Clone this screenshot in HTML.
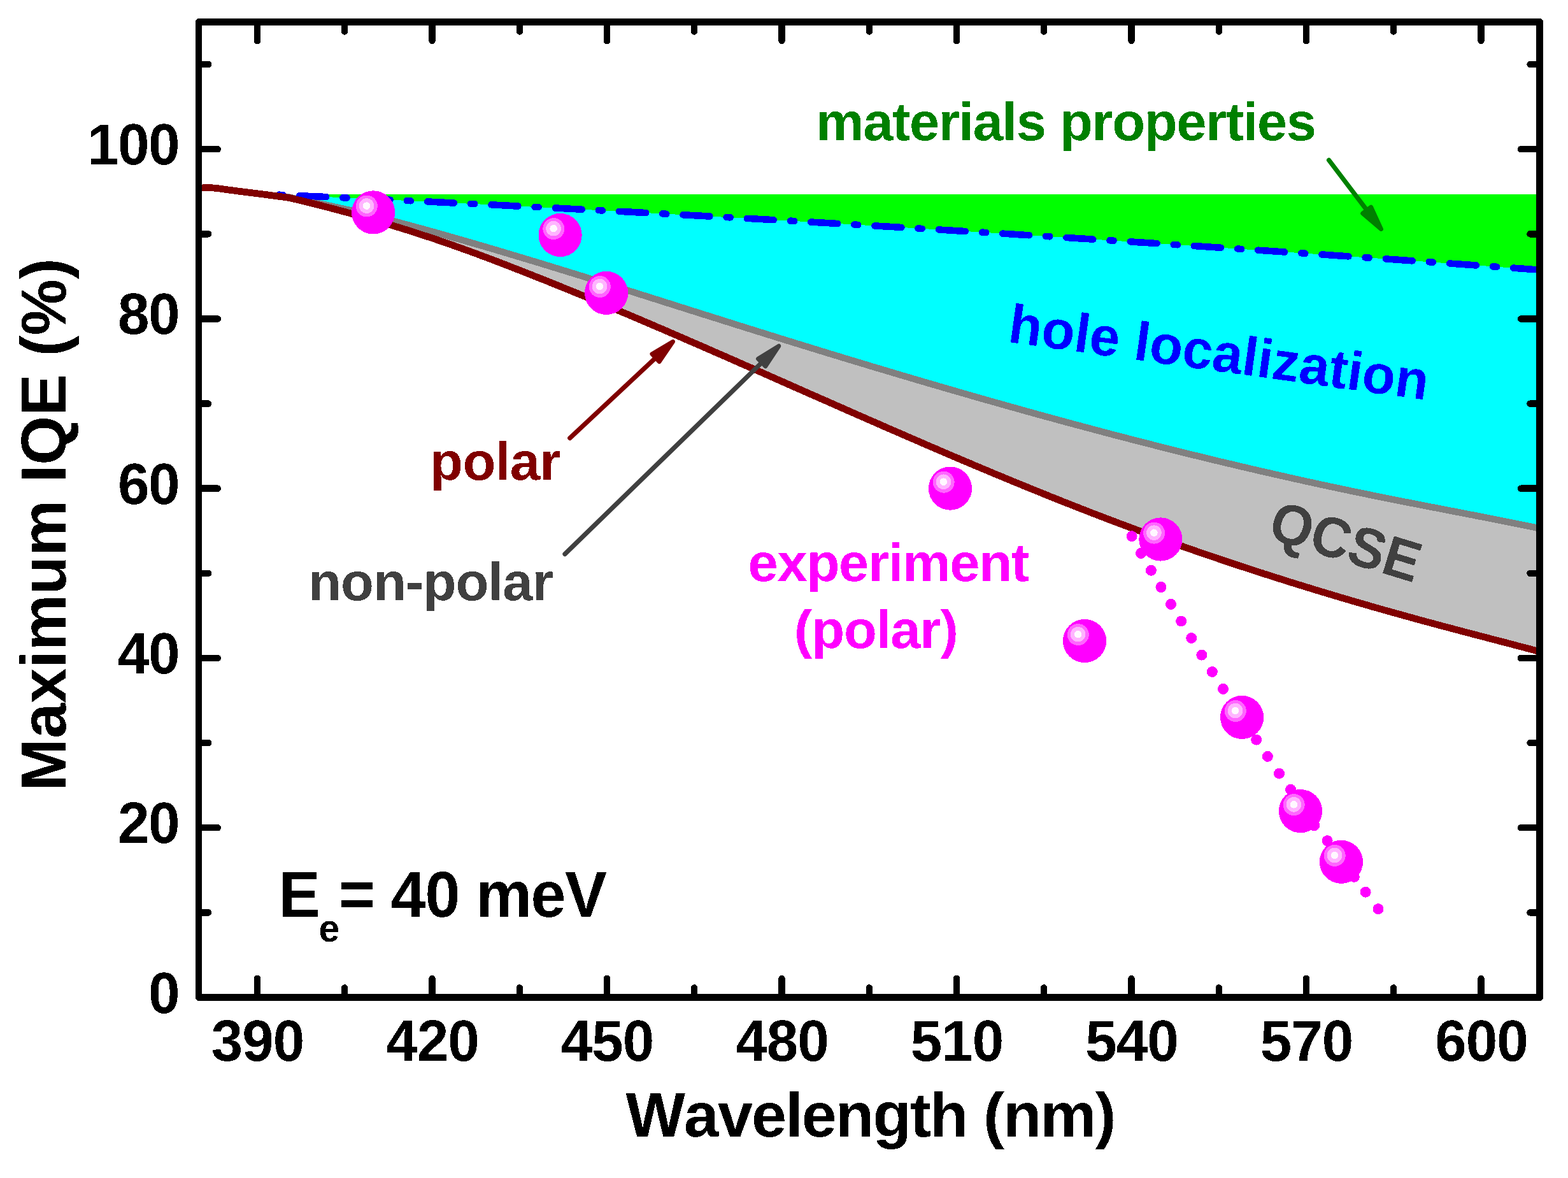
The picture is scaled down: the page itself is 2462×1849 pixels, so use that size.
<!DOCTYPE html>
<html lang="en"><head><meta charset="utf-8"><title>Maximum IQE vs Wavelength</title>
<style>html,body{margin:0;padding:0;background:#fff}svg{display:block}</style>
</head><body>
<svg width="2462" height="1849" viewBox="0 0 2462 1849">
<rect width="2462" height="1849" fill="#fff"/>
<defs><clipPath id="plot"><rect x="312.2" y="34.5" width="2105.3" height="1531.0"/></clipPath><filter id="hard" x="0" y="0" width="2462" height="1849" filterUnits="userSpaceOnUse" color-interpolation-filters="sRGB"><feComponentTransfer><feFuncA type="discrete" tableValues="0 1"/></feComponentTransfer></filter></defs>
<g clip-path="url(#plot)" shape-rendering="crispEdges">
<path d="M500.0,304.9 L2417.5,304.9 L2417.5,423.6 L2412.0,423.2 L2406.0,422.8 L2400.0,422.4 L2394.0,421.9 L2388.0,421.5 L2382.0,421.1 L2376.0,420.6 L2370.0,420.2 L2364.0,419.8 L2358.0,419.3 L2352.0,418.9 L2346.0,418.5 L2340.0,418.0 L2334.0,417.6 L2328.0,417.2 L2322.0,416.8 L2316.0,416.3 L2310.0,415.9 L2304.0,415.5 L2298.0,415.0 L2292.0,414.6 L2286.0,414.2 L2280.0,413.8 L2274.0,413.3 L2268.0,412.9 L2262.0,412.5 L2256.0,412.1 L2250.0,411.6 L2244.0,411.2 L2238.0,410.8 L2232.0,410.4 L2226.0,409.9 L2220.0,409.5 L2214.0,409.1 L2208.0,408.7 L2202.0,408.3 L2196.0,407.8 L2190.0,407.4 L2184.0,407.0 L2178.0,406.6 L2172.0,406.2 L2166.0,405.7 L2160.0,405.3 L2154.0,404.9 L2148.0,404.5 L2142.0,404.1 L2136.0,403.7 L2130.0,403.2 L2124.0,402.8 L2118.0,402.4 L2112.0,402.0 L2106.0,401.6 L2100.0,401.2 L2094.0,400.8 L2088.0,400.3 L2082.0,399.9 L2076.0,399.5 L2070.0,399.1 L2064.0,398.7 L2058.0,398.3 L2052.0,397.9 L2046.0,397.5 L2040.0,397.1 L2034.0,396.7 L2028.0,396.2 L2022.0,395.8 L2016.0,395.4 L2010.0,395.0 L2004.0,394.6 L1998.0,394.2 L1992.0,393.8 L1986.0,393.4 L1980.0,393.0 L1974.0,392.6 L1968.0,392.2 L1962.0,391.8 L1956.0,391.4 L1950.0,391.0 L1944.0,390.6 L1938.0,390.2 L1932.0,389.8 L1926.0,389.4 L1920.0,389.0 L1914.0,388.6 L1908.0,388.2 L1902.0,387.8 L1896.0,387.4 L1890.0,387.0 L1884.0,386.6 L1878.0,386.2 L1872.0,385.8 L1866.0,385.4 L1860.0,385.0 L1854.0,384.6 L1848.0,384.2 L1842.0,383.8 L1836.0,383.4 L1830.0,383.0 L1824.0,382.6 L1818.0,382.2 L1812.0,381.8 L1806.0,381.4 L1800.0,381.0 L1794.0,380.6 L1788.0,380.3 L1782.0,379.9 L1776.0,379.5 L1770.0,379.1 L1764.0,378.7 L1758.0,378.3 L1752.0,377.9 L1746.0,377.5 L1740.0,377.1 L1734.0,376.8 L1728.0,376.4 L1722.0,376.0 L1716.0,375.6 L1710.0,375.2 L1704.0,374.8 L1698.0,374.5 L1692.0,374.1 L1686.0,373.7 L1680.0,373.3 L1674.0,372.9 L1668.0,372.5 L1662.0,372.2 L1656.0,371.8 L1650.0,371.4 L1644.0,371.0 L1638.0,370.6 L1632.0,370.3 L1626.0,369.9 L1620.0,369.5 L1614.0,369.1 L1608.0,368.8 L1602.0,368.4 L1596.0,368.0 L1590.0,367.6 L1584.0,367.2 L1578.0,366.9 L1572.0,366.5 L1566.0,366.1 L1560.0,365.8 L1554.0,365.4 L1548.0,365.0 L1542.0,364.6 L1536.0,364.3 L1530.0,363.9 L1524.0,363.5 L1518.0,363.2 L1512.0,362.8 L1506.0,362.4 L1500.0,362.1 L1494.0,361.7 L1488.0,361.3 L1482.0,361.0 L1476.0,360.6 L1470.0,360.2 L1464.0,359.9 L1458.0,359.5 L1452.0,359.1 L1446.0,358.8 L1440.0,358.4 L1434.0,358.0 L1428.0,357.7 L1422.0,357.3 L1416.0,357.0 L1410.0,356.6 L1404.0,356.2 L1398.0,355.9 L1392.0,355.5 L1386.0,355.2 L1380.0,354.8 L1374.0,354.5 L1368.0,354.1 L1362.0,353.7 L1356.0,353.4 L1350.0,353.0 L1344.0,352.7 L1338.0,352.3 L1332.0,352.0 L1326.0,351.6 L1320.0,351.3 L1314.0,350.9 L1308.0,350.6 L1302.0,350.2 L1296.0,349.9 L1290.0,349.5 L1284.0,349.2 L1278.0,348.8 L1272.0,348.5 L1266.0,348.1 L1260.0,347.8 L1254.0,347.4 L1248.0,347.1 L1242.0,346.7 L1236.0,346.4 L1230.0,346.0 L1224.0,345.7 L1218.0,345.4 L1212.0,345.0 L1206.0,344.7 L1200.0,344.3 L1194.0,344.0 L1188.0,343.7 L1182.0,343.3 L1176.0,343.0 L1170.0,342.6 L1164.0,342.3 L1158.0,342.0 L1152.0,341.6 L1146.0,341.3 L1140.0,341.0 L1134.0,340.6 L1128.0,340.3 L1122.0,339.9 L1116.0,339.6 L1110.0,339.3 L1104.0,338.9 L1098.0,338.6 L1092.0,338.3 L1086.0,338.0 L1080.0,337.6 L1074.0,337.3 L1068.0,337.0 L1062.0,336.6 L1056.0,336.3 L1050.0,336.0 L1044.0,335.7 L1038.0,335.3 L1032.0,335.0 L1026.0,334.7 L1020.0,334.4 L1014.0,334.0 L1008.0,333.7 L1002.0,333.4 L996.0,333.1 L990.0,332.7 L984.0,332.4 L978.0,332.1 L972.0,331.8 L966.0,331.5 L960.0,331.1 L954.0,330.8 L948.0,330.5 L942.0,330.2 L936.0,329.9 L930.0,329.6 L924.0,329.2 L918.0,328.9 L912.0,328.6 L906.0,328.3 L900.0,328.0 L894.0,327.7 L888.0,327.4 L882.0,327.0 L876.0,326.7 L870.0,326.4 L864.0,326.1 L858.0,325.8 L852.0,325.5 L846.0,325.2 L840.0,324.9 L834.0,324.6 L828.0,324.3 L822.0,324.0 L816.0,323.7 L810.0,323.4 L804.0,323.1 L798.0,322.7 L792.0,322.4 L786.0,322.1 L780.0,321.8 L774.0,321.5 L768.0,321.2 L762.0,320.9 L756.0,320.6 L750.0,320.3 L744.0,320.1 L738.0,319.8 L732.0,319.5 L726.0,319.2 L720.0,318.9 L714.0,318.6 L708.0,318.3 L702.0,318.0 L696.0,317.7 L690.0,317.4 L684.0,317.1 L678.0,316.8 L672.0,316.5 L666.0,316.2 L660.0,316.0 L654.0,315.7 L648.0,315.4 L642.0,315.1 L636.0,314.8 L630.0,314.5 L624.0,314.2 L618.0,313.9 L612.0,313.7 L606.0,313.4 L600.0,313.1 L594.0,312.8 L588.0,312.5 L582.0,312.3 L576.0,312.0 L570.0,311.7 L564.0,311.4 L558.0,311.1 L552.0,310.9 L546.0,310.6 L540.0,310.3 L534.0,310.0 L528.0,309.8 L522.0,309.5 L516.0,309.2 L510.0,308.9 L504.0,308.7Z" fill="#00ff00"/>
<path d="M426.0,305.2 L432.0,305.5 L438.0,305.7 L444.0,306.0 L450.0,306.2 L456.0,306.5 L462.0,306.8 L468.0,307.0 L474.0,307.3 L480.0,307.6 L486.0,307.9 L492.0,308.1 L498.0,308.4 L504.0,308.7 L510.0,308.9 L516.0,309.2 L522.0,309.5 L528.0,309.8 L534.0,310.0 L540.0,310.3 L546.0,310.6 L552.0,310.9 L558.0,311.1 L564.0,311.4 L570.0,311.7 L576.0,312.0 L582.0,312.3 L588.0,312.5 L594.0,312.8 L600.0,313.1 L606.0,313.4 L612.0,313.7 L618.0,313.9 L624.0,314.2 L630.0,314.5 L636.0,314.8 L642.0,315.1 L648.0,315.4 L654.0,315.7 L660.0,316.0 L666.0,316.2 L672.0,316.5 L678.0,316.8 L684.0,317.1 L690.0,317.4 L696.0,317.7 L702.0,318.0 L708.0,318.3 L714.0,318.6 L720.0,318.9 L726.0,319.2 L732.0,319.5 L738.0,319.8 L744.0,320.1 L750.0,320.3 L756.0,320.6 L762.0,320.9 L768.0,321.2 L774.0,321.5 L780.0,321.8 L786.0,322.1 L792.0,322.4 L798.0,322.7 L804.0,323.1 L810.0,323.4 L816.0,323.7 L822.0,324.0 L828.0,324.3 L834.0,324.6 L840.0,324.9 L846.0,325.2 L852.0,325.5 L858.0,325.8 L864.0,326.1 L870.0,326.4 L876.0,326.7 L882.0,327.0 L888.0,327.4 L894.0,327.7 L900.0,328.0 L906.0,328.3 L912.0,328.6 L918.0,328.9 L924.0,329.2 L930.0,329.6 L936.0,329.9 L942.0,330.2 L948.0,330.5 L954.0,330.8 L960.0,331.1 L966.0,331.5 L972.0,331.8 L978.0,332.1 L984.0,332.4 L990.0,332.7 L996.0,333.1 L1002.0,333.4 L1008.0,333.7 L1014.0,334.0 L1020.0,334.4 L1026.0,334.7 L1032.0,335.0 L1038.0,335.3 L1044.0,335.7 L1050.0,336.0 L1056.0,336.3 L1062.0,336.6 L1068.0,337.0 L1074.0,337.3 L1080.0,337.6 L1086.0,338.0 L1092.0,338.3 L1098.0,338.6 L1104.0,338.9 L1110.0,339.3 L1116.0,339.6 L1122.0,339.9 L1128.0,340.3 L1134.0,340.6 L1140.0,341.0 L1146.0,341.3 L1152.0,341.6 L1158.0,342.0 L1164.0,342.3 L1170.0,342.6 L1176.0,343.0 L1182.0,343.3 L1188.0,343.7 L1194.0,344.0 L1200.0,344.3 L1206.0,344.7 L1212.0,345.0 L1218.0,345.4 L1224.0,345.7 L1230.0,346.0 L1236.0,346.4 L1242.0,346.7 L1248.0,347.1 L1254.0,347.4 L1260.0,347.8 L1266.0,348.1 L1272.0,348.5 L1278.0,348.8 L1284.0,349.2 L1290.0,349.5 L1296.0,349.9 L1302.0,350.2 L1308.0,350.6 L1314.0,350.9 L1320.0,351.3 L1326.0,351.6 L1332.0,352.0 L1338.0,352.3 L1344.0,352.7 L1350.0,353.0 L1356.0,353.4 L1362.0,353.7 L1368.0,354.1 L1374.0,354.5 L1380.0,354.8 L1386.0,355.2 L1392.0,355.5 L1398.0,355.9 L1404.0,356.2 L1410.0,356.6 L1416.0,357.0 L1422.0,357.3 L1428.0,357.7 L1434.0,358.0 L1440.0,358.4 L1446.0,358.8 L1452.0,359.1 L1458.0,359.5 L1464.0,359.9 L1470.0,360.2 L1476.0,360.6 L1482.0,361.0 L1488.0,361.3 L1494.0,361.7 L1500.0,362.1 L1506.0,362.4 L1512.0,362.8 L1518.0,363.2 L1524.0,363.5 L1530.0,363.9 L1536.0,364.3 L1542.0,364.6 L1548.0,365.0 L1554.0,365.4 L1560.0,365.8 L1566.0,366.1 L1572.0,366.5 L1578.0,366.9 L1584.0,367.2 L1590.0,367.6 L1596.0,368.0 L1602.0,368.4 L1608.0,368.8 L1614.0,369.1 L1620.0,369.5 L1626.0,369.9 L1632.0,370.3 L1638.0,370.6 L1644.0,371.0 L1650.0,371.4 L1656.0,371.8 L1662.0,372.2 L1668.0,372.5 L1674.0,372.9 L1680.0,373.3 L1686.0,373.7 L1692.0,374.1 L1698.0,374.5 L1704.0,374.8 L1710.0,375.2 L1716.0,375.6 L1722.0,376.0 L1728.0,376.4 L1734.0,376.8 L1740.0,377.1 L1746.0,377.5 L1752.0,377.9 L1758.0,378.3 L1764.0,378.7 L1770.0,379.1 L1776.0,379.5 L1782.0,379.9 L1788.0,380.3 L1794.0,380.6 L1800.0,381.0 L1806.0,381.4 L1812.0,381.8 L1818.0,382.2 L1824.0,382.6 L1830.0,383.0 L1836.0,383.4 L1842.0,383.8 L1848.0,384.2 L1854.0,384.6 L1860.0,385.0 L1866.0,385.4 L1872.0,385.8 L1878.0,386.2 L1884.0,386.6 L1890.0,387.0 L1896.0,387.4 L1902.0,387.8 L1908.0,388.2 L1914.0,388.6 L1920.0,389.0 L1926.0,389.4 L1932.0,389.8 L1938.0,390.2 L1944.0,390.6 L1950.0,391.0 L1956.0,391.4 L1962.0,391.8 L1968.0,392.2 L1974.0,392.6 L1980.0,393.0 L1986.0,393.4 L1992.0,393.8 L1998.0,394.2 L2004.0,394.6 L2010.0,395.0 L2016.0,395.4 L2022.0,395.8 L2028.0,396.2 L2034.0,396.7 L2040.0,397.1 L2046.0,397.5 L2052.0,397.9 L2058.0,398.3 L2064.0,398.7 L2070.0,399.1 L2076.0,399.5 L2082.0,399.9 L2088.0,400.3 L2094.0,400.8 L2100.0,401.2 L2106.0,401.6 L2112.0,402.0 L2118.0,402.4 L2124.0,402.8 L2130.0,403.2 L2136.0,403.7 L2142.0,404.1 L2148.0,404.5 L2154.0,404.9 L2160.0,405.3 L2166.0,405.7 L2172.0,406.2 L2178.0,406.6 L2184.0,407.0 L2190.0,407.4 L2196.0,407.8 L2202.0,408.3 L2208.0,408.7 L2214.0,409.1 L2220.0,409.5 L2226.0,409.9 L2232.0,410.4 L2238.0,410.8 L2244.0,411.2 L2250.0,411.6 L2256.0,412.1 L2262.0,412.5 L2268.0,412.9 L2274.0,413.3 L2280.0,413.8 L2286.0,414.2 L2292.0,414.6 L2298.0,415.0 L2304.0,415.5 L2310.0,415.9 L2316.0,416.3 L2322.0,416.8 L2328.0,417.2 L2334.0,417.6 L2340.0,418.0 L2346.0,418.5 L2352.0,418.9 L2358.0,419.3 L2364.0,419.8 L2370.0,420.2 L2376.0,420.6 L2382.0,421.1 L2388.0,421.5 L2394.0,421.9 L2400.0,422.4 L2406.0,422.8 L2412.0,423.2 L2417.5,423.6 L2417.5,829.4 L2414.0,828.7 L2408.0,827.5 L2402.0,826.2 L2396.0,825.0 L2390.0,823.8 L2384.0,822.6 L2378.0,821.4 L2372.0,820.2 L2366.0,819.0 L2360.0,817.8 L2354.0,816.6 L2348.0,815.4 L2342.0,814.2 L2336.0,813.0 L2330.0,811.9 L2324.0,810.7 L2318.0,809.5 L2312.0,808.3 L2306.0,807.2 L2300.0,806.0 L2294.0,804.9 L2288.0,803.7 L2282.0,802.5 L2276.0,801.4 L2270.0,800.2 L2264.0,799.0 L2258.0,797.9 L2252.0,796.7 L2246.0,795.6 L2240.0,794.4 L2234.0,793.2 L2228.0,792.1 L2222.0,790.9 L2216.0,789.7 L2210.0,788.5 L2204.0,787.4 L2198.0,786.2 L2192.0,785.0 L2186.0,783.8 L2180.0,782.6 L2174.0,781.4 L2168.0,780.2 L2162.0,779.0 L2156.0,777.8 L2150.0,776.5 L2144.0,775.3 L2138.0,774.1 L2132.0,772.8 L2126.0,771.6 L2120.0,770.3 L2114.0,769.1 L2108.0,767.8 L2102.0,766.5 L2096.0,765.3 L2090.0,764.0 L2084.0,762.7 L2078.0,761.4 L2072.0,760.1 L2066.0,758.8 L2060.0,757.5 L2054.0,756.2 L2048.0,754.9 L2042.0,753.5 L2036.0,752.2 L2030.0,750.9 L2024.0,749.5 L2018.0,748.2 L2012.0,746.8 L2006.0,745.5 L2000.0,744.1 L1994.0,742.7 L1988.0,741.4 L1982.0,740.0 L1976.0,738.6 L1970.0,737.2 L1964.0,735.8 L1958.0,734.4 L1952.0,733.0 L1946.0,731.6 L1940.0,730.2 L1934.0,728.7 L1928.0,727.3 L1922.0,725.9 L1916.0,724.5 L1910.0,723.0 L1904.0,721.6 L1898.0,720.1 L1892.0,718.7 L1886.0,717.2 L1880.0,715.7 L1874.0,714.3 L1868.0,712.8 L1862.0,711.3 L1856.0,709.8 L1850.0,708.3 L1844.0,706.8 L1838.0,705.3 L1832.0,703.8 L1826.0,702.3 L1820.0,700.8 L1814.0,699.3 L1808.0,697.7 L1802.0,696.2 L1796.0,694.7 L1790.0,693.1 L1784.0,691.6 L1778.0,690.1 L1772.0,688.5 L1766.0,686.9 L1760.0,685.4 L1754.0,683.8 L1748.0,682.3 L1742.0,680.7 L1736.0,679.1 L1730.0,677.5 L1724.0,675.9 L1718.0,674.3 L1712.0,672.7 L1706.0,671.1 L1700.0,669.5 L1694.0,667.9 L1688.0,666.3 L1682.0,664.7 L1676.0,663.1 L1670.0,661.4 L1664.0,659.8 L1658.0,658.2 L1652.0,656.5 L1646.0,654.9 L1640.0,653.3 L1634.0,651.6 L1628.0,650.0 L1622.0,648.3 L1616.0,646.6 L1610.0,645.0 L1604.0,643.3 L1598.0,641.6 L1592.0,639.9 L1586.0,638.3 L1580.0,636.6 L1574.0,634.9 L1568.0,633.2 L1562.0,631.5 L1556.0,629.8 L1550.0,628.1 L1544.0,626.4 L1538.0,624.7 L1532.0,623.0 L1526.0,621.3 L1520.0,619.5 L1514.0,617.8 L1508.0,616.1 L1502.0,614.3 L1496.0,612.6 L1490.0,610.9 L1484.0,609.1 L1478.0,607.4 L1472.0,605.6 L1466.0,603.9 L1460.0,602.1 L1454.0,600.4 L1448.0,598.6 L1442.0,596.9 L1436.0,595.1 L1430.0,593.3 L1424.0,591.5 L1418.0,589.8 L1412.0,588.0 L1406.0,586.2 L1400.0,584.4 L1394.0,582.6 L1388.0,580.8 L1382.0,579.0 L1376.0,577.3 L1370.0,575.5 L1364.0,573.6 L1358.0,571.8 L1352.0,570.0 L1346.0,568.2 L1340.0,566.4 L1334.0,564.6 L1328.0,562.8 L1322.0,561.0 L1316.0,559.1 L1310.0,557.3 L1304.0,555.5 L1298.0,553.6 L1292.0,551.8 L1286.0,550.0 L1280.0,548.1 L1274.0,546.3 L1268.0,544.4 L1262.0,542.6 L1256.0,540.7 L1250.0,538.9 L1244.0,537.0 L1238.0,535.2 L1232.0,533.3 L1226.0,531.5 L1220.0,529.6 L1214.0,527.7 L1208.0,525.9 L1202.0,524.0 L1196.0,522.1 L1190.0,520.3 L1184.0,518.4 L1178.0,516.5 L1172.0,514.6 L1166.0,512.7 L1160.0,510.9 L1154.0,509.0 L1148.0,507.1 L1142.0,505.2 L1136.0,503.3 L1130.0,501.4 L1124.0,499.5 L1118.0,497.6 L1112.0,495.7 L1106.0,493.9 L1100.0,492.0 L1094.0,490.1 L1088.0,488.2 L1082.0,486.3 L1076.0,484.4 L1070.0,482.5 L1064.0,480.6 L1058.0,478.7 L1052.0,476.8 L1046.0,474.9 L1040.0,473.0 L1034.0,471.1 L1028.0,469.2 L1022.0,467.3 L1016.0,465.4 L1010.0,463.5 L1004.0,461.6 L998.0,459.7 L992.0,457.8 L986.0,456.0 L980.0,454.1 L974.0,452.2 L968.0,450.3 L962.0,448.4 L956.0,446.5 L950.0,444.7 L944.0,442.8 L938.0,440.9 L932.0,439.0 L926.0,437.2 L920.0,435.3 L914.0,433.4 L908.0,431.6 L902.0,429.7 L896.0,427.9 L890.0,426.0 L884.0,424.2 L878.0,422.3 L872.0,420.5 L866.0,418.6 L860.0,416.8 L854.0,415.0 L848.0,413.1 L842.0,411.3 L836.0,409.5 L830.0,407.7 L824.0,405.9 L818.0,404.1 L812.0,402.3 L806.0,400.5 L800.0,398.7 L794.0,396.9 L788.0,395.1 L782.0,393.3 L776.0,391.5 L770.0,389.8 L764.0,388.0 L758.0,386.2 L752.0,384.5 L746.0,382.7 L740.0,381.0 L734.0,379.3 L728.0,377.5 L722.0,375.8 L716.0,374.1 L710.0,372.4 L704.0,370.7 L698.0,369.0 L692.0,367.3 L686.0,365.6 L680.0,363.9 L674.0,362.2 L668.0,360.6 L662.0,358.9 L656.0,357.3 L650.0,355.7 L644.0,354.0 L638.0,352.4 L632.0,350.8 L626.0,349.2 L620.0,347.6 L614.0,346.1 L608.0,344.5 L602.0,343.0 L596.0,341.4 L590.0,339.9 L584.0,338.4 L578.0,336.9 L572.0,335.5 L566.0,334.0 L560.0,332.5 L554.0,331.1 L548.0,329.7 L542.0,328.3 L536.0,327.0 L530.0,325.6 L524.0,324.3 L518.0,323.0 L512.0,321.7 L506.0,320.4 L500.0,319.2 L494.0,317.9 L488.0,316.7 L482.0,315.5 L476.0,314.4 L470.0,313.3 L464.0,311.9 L458.0,310.5 L452.0,309.3 L446.0,308.5 L440.0,307.7 L434.0,306.9 L428.0,307.0 L422.0,306.2Z" fill="#00ffff"/>
<path d="M422.0,306.2 L428.0,307.0 L434.0,306.9 L440.0,307.7 L446.0,308.5 L452.0,309.3 L458.0,310.5 L464.0,311.9 L470.0,313.3 L476.0,314.4 L482.0,315.5 L488.0,316.7 L494.0,317.9 L500.0,319.2 L506.0,320.4 L512.0,321.7 L518.0,323.0 L524.0,324.3 L530.0,325.6 L536.0,327.0 L542.0,328.3 L548.0,329.7 L554.0,331.1 L560.0,332.5 L566.0,334.0 L572.0,335.5 L578.0,336.9 L584.0,338.4 L590.0,339.9 L596.0,341.4 L602.0,343.0 L608.0,344.5 L614.0,346.1 L620.0,347.6 L626.0,349.2 L632.0,350.8 L638.0,352.4 L644.0,354.0 L650.0,355.7 L656.0,357.3 L662.0,358.9 L668.0,360.6 L674.0,362.2 L680.0,363.9 L686.0,365.6 L692.0,367.3 L698.0,369.0 L704.0,370.7 L710.0,372.4 L716.0,374.1 L722.0,375.8 L728.0,377.5 L734.0,379.3 L740.0,381.0 L746.0,382.7 L752.0,384.5 L758.0,386.2 L764.0,388.0 L770.0,389.8 L776.0,391.5 L782.0,393.3 L788.0,395.1 L794.0,396.9 L800.0,398.7 L806.0,400.5 L812.0,402.3 L818.0,404.1 L824.0,405.9 L830.0,407.7 L836.0,409.5 L842.0,411.3 L848.0,413.1 L854.0,415.0 L860.0,416.8 L866.0,418.6 L872.0,420.5 L878.0,422.3 L884.0,424.2 L890.0,426.0 L896.0,427.9 L902.0,429.7 L908.0,431.6 L914.0,433.4 L920.0,435.3 L926.0,437.2 L932.0,439.0 L938.0,440.9 L944.0,442.8 L950.0,444.7 L956.0,446.5 L962.0,448.4 L968.0,450.3 L974.0,452.2 L980.0,454.1 L986.0,456.0 L992.0,457.8 L998.0,459.7 L1004.0,461.6 L1010.0,463.5 L1016.0,465.4 L1022.0,467.3 L1028.0,469.2 L1034.0,471.1 L1040.0,473.0 L1046.0,474.9 L1052.0,476.8 L1058.0,478.7 L1064.0,480.6 L1070.0,482.5 L1076.0,484.4 L1082.0,486.3 L1088.0,488.2 L1094.0,490.1 L1100.0,492.0 L1106.0,493.9 L1112.0,495.7 L1118.0,497.6 L1124.0,499.5 L1130.0,501.4 L1136.0,503.3 L1142.0,505.2 L1148.0,507.1 L1154.0,509.0 L1160.0,510.9 L1166.0,512.7 L1172.0,514.6 L1178.0,516.5 L1184.0,518.4 L1190.0,520.3 L1196.0,522.1 L1202.0,524.0 L1208.0,525.9 L1214.0,527.7 L1220.0,529.6 L1226.0,531.5 L1232.0,533.3 L1238.0,535.2 L1244.0,537.0 L1250.0,538.9 L1256.0,540.7 L1262.0,542.6 L1268.0,544.4 L1274.0,546.3 L1280.0,548.1 L1286.0,550.0 L1292.0,551.8 L1298.0,553.6 L1304.0,555.5 L1310.0,557.3 L1316.0,559.1 L1322.0,561.0 L1328.0,562.8 L1334.0,564.6 L1340.0,566.4 L1346.0,568.2 L1352.0,570.0 L1358.0,571.8 L1364.0,573.6 L1370.0,575.5 L1376.0,577.3 L1382.0,579.0 L1388.0,580.8 L1394.0,582.6 L1400.0,584.4 L1406.0,586.2 L1412.0,588.0 L1418.0,589.8 L1424.0,591.5 L1430.0,593.3 L1436.0,595.1 L1442.0,596.9 L1448.0,598.6 L1454.0,600.4 L1460.0,602.1 L1466.0,603.9 L1472.0,605.6 L1478.0,607.4 L1484.0,609.1 L1490.0,610.9 L1496.0,612.6 L1502.0,614.3 L1508.0,616.1 L1514.0,617.8 L1520.0,619.5 L1526.0,621.3 L1532.0,623.0 L1538.0,624.7 L1544.0,626.4 L1550.0,628.1 L1556.0,629.8 L1562.0,631.5 L1568.0,633.2 L1574.0,634.9 L1580.0,636.6 L1586.0,638.3 L1592.0,639.9 L1598.0,641.6 L1604.0,643.3 L1610.0,645.0 L1616.0,646.6 L1622.0,648.3 L1628.0,650.0 L1634.0,651.6 L1640.0,653.3 L1646.0,654.9 L1652.0,656.5 L1658.0,658.2 L1664.0,659.8 L1670.0,661.4 L1676.0,663.1 L1682.0,664.7 L1688.0,666.3 L1694.0,667.9 L1700.0,669.5 L1706.0,671.1 L1712.0,672.7 L1718.0,674.3 L1724.0,675.9 L1730.0,677.5 L1736.0,679.1 L1742.0,680.7 L1748.0,682.3 L1754.0,683.8 L1760.0,685.4 L1766.0,686.9 L1772.0,688.5 L1778.0,690.1 L1784.0,691.6 L1790.0,693.1 L1796.0,694.7 L1802.0,696.2 L1808.0,697.7 L1814.0,699.3 L1820.0,700.8 L1826.0,702.3 L1832.0,703.8 L1838.0,705.3 L1844.0,706.8 L1850.0,708.3 L1856.0,709.8 L1862.0,711.3 L1868.0,712.8 L1874.0,714.3 L1880.0,715.7 L1886.0,717.2 L1892.0,718.7 L1898.0,720.1 L1904.0,721.6 L1910.0,723.0 L1916.0,724.5 L1922.0,725.9 L1928.0,727.3 L1934.0,728.7 L1940.0,730.2 L1946.0,731.6 L1952.0,733.0 L1958.0,734.4 L1964.0,735.8 L1970.0,737.2 L1976.0,738.6 L1982.0,740.0 L1988.0,741.4 L1994.0,742.7 L2000.0,744.1 L2006.0,745.5 L2012.0,746.8 L2018.0,748.2 L2024.0,749.5 L2030.0,750.9 L2036.0,752.2 L2042.0,753.5 L2048.0,754.9 L2054.0,756.2 L2060.0,757.5 L2066.0,758.8 L2072.0,760.1 L2078.0,761.4 L2084.0,762.7 L2090.0,764.0 L2096.0,765.3 L2102.0,766.5 L2108.0,767.8 L2114.0,769.1 L2120.0,770.3 L2126.0,771.6 L2132.0,772.8 L2138.0,774.1 L2144.0,775.3 L2150.0,776.5 L2156.0,777.8 L2162.0,779.0 L2168.0,780.2 L2174.0,781.4 L2180.0,782.6 L2186.0,783.8 L2192.0,785.0 L2198.0,786.2 L2204.0,787.4 L2210.0,788.5 L2216.0,789.7 L2222.0,790.9 L2228.0,792.1 L2234.0,793.2 L2240.0,794.4 L2246.0,795.6 L2252.0,796.7 L2258.0,797.9 L2264.0,799.0 L2270.0,800.2 L2276.0,801.4 L2282.0,802.5 L2288.0,803.7 L2294.0,804.9 L2300.0,806.0 L2306.0,807.2 L2312.0,808.3 L2318.0,809.5 L2324.0,810.7 L2330.0,811.9 L2336.0,813.0 L2342.0,814.2 L2348.0,815.4 L2354.0,816.6 L2360.0,817.8 L2366.0,819.0 L2372.0,820.2 L2378.0,821.4 L2384.0,822.6 L2390.0,823.8 L2396.0,825.0 L2402.0,826.2 L2408.0,827.5 L2414.0,828.7 L2417.5,829.4 L2417.5,1022.8 L2412.2,1021.4 L2406.2,1019.8 L2400.2,1018.2 L2394.2,1016.6 L2388.2,1015.0 L2382.2,1013.5 L2376.2,1011.9 L2370.2,1010.3 L2364.2,1008.7 L2358.2,1007.2 L2352.2,1005.6 L2346.2,1004.0 L2340.2,1002.5 L2334.2,1000.9 L2328.2,999.3 L2322.2,997.8 L2316.2,996.2 L2310.2,994.6 L2304.2,993.1 L2298.2,991.5 L2292.2,989.9 L2286.2,988.3 L2280.2,986.7 L2274.2,985.1 L2268.2,983.6 L2262.2,982.0 L2256.2,980.3 L2250.2,978.7 L2244.2,977.1 L2238.2,975.5 L2232.2,973.9 L2226.2,972.2 L2220.2,970.6 L2214.2,968.9 L2208.2,967.3 L2202.2,965.6 L2196.2,963.9 L2190.2,962.3 L2184.2,960.6 L2178.2,958.9 L2172.2,957.2 L2166.2,955.5 L2160.2,953.8 L2154.2,952.1 L2148.2,950.3 L2142.2,948.6 L2136.2,946.9 L2130.2,945.1 L2124.2,943.4 L2118.2,941.6 L2112.2,939.8 L2106.2,938.1 L2100.2,936.3 L2094.2,934.5 L2088.2,932.7 L2082.2,930.9 L2076.2,929.1 L2070.2,927.3 L2064.2,925.5 L2058.2,923.6 L2052.2,921.8 L2046.2,919.9 L2040.2,918.1 L2034.2,916.2 L2028.2,914.4 L2022.2,912.5 L2016.2,910.6 L2010.2,908.7 L2004.2,906.8 L1998.2,904.9 L1992.2,903.0 L1986.2,901.1 L1980.2,899.1 L1974.2,897.2 L1968.2,895.3 L1962.2,893.3 L1956.2,891.3 L1950.2,889.4 L1944.2,887.4 L1938.2,885.4 L1932.2,883.4 L1926.2,881.4 L1920.2,879.4 L1914.2,877.4 L1908.2,875.3 L1902.2,873.3 L1896.2,871.3 L1890.2,869.2 L1884.2,867.1 L1878.2,865.1 L1872.2,863.0 L1866.2,860.9 L1860.2,858.8 L1854.2,856.7 L1848.2,854.6 L1842.2,852.5 L1836.2,850.3 L1830.2,848.2 L1824.2,846.0 L1818.2,843.9 L1812.2,841.7 L1806.2,839.5 L1800.2,837.3 L1794.2,835.1 L1788.2,832.9 L1782.2,830.7 L1776.2,828.5 L1770.2,826.3 L1764.2,824.0 L1758.2,821.8 L1752.2,819.5 L1746.2,817.3 L1740.2,815.0 L1734.2,812.7 L1728.2,810.4 L1722.2,808.1 L1716.2,805.8 L1710.2,803.5 L1704.2,801.1 L1698.2,798.8 L1692.2,796.4 L1686.2,794.1 L1680.2,791.7 L1674.2,789.4 L1668.2,787.0 L1662.2,784.6 L1656.2,782.2 L1650.2,779.8 L1644.2,777.4 L1638.2,775.0 L1632.2,772.5 L1626.2,770.1 L1620.2,767.7 L1614.2,765.2 L1608.2,762.8 L1602.2,760.3 L1596.2,757.9 L1590.2,755.4 L1584.2,752.9 L1578.2,750.4 L1572.2,747.9 L1566.2,745.5 L1560.2,743.0 L1554.2,740.5 L1548.2,737.9 L1542.2,735.4 L1536.2,732.9 L1530.2,730.4 L1524.2,727.8 L1518.2,725.3 L1512.2,722.8 L1506.2,720.2 L1500.2,717.7 L1494.2,715.1 L1488.2,712.6 L1482.2,710.0 L1476.2,707.4 L1470.2,704.8 L1464.2,702.3 L1458.2,699.7 L1452.2,697.1 L1446.2,694.5 L1440.2,691.9 L1434.2,689.3 L1428.2,686.7 L1422.2,684.1 L1416.2,681.5 L1410.2,678.9 L1404.2,676.3 L1398.2,673.7 L1392.2,671.1 L1386.2,668.5 L1380.2,665.8 L1374.2,663.2 L1368.2,660.6 L1362.2,658.0 L1356.2,655.3 L1350.2,652.7 L1344.2,650.1 L1338.2,647.4 L1332.2,644.8 L1326.2,642.1 L1320.2,639.5 L1314.2,636.9 L1308.2,634.2 L1302.2,631.6 L1296.2,628.9 L1290.2,626.3 L1284.2,623.6 L1278.2,621.0 L1272.2,618.4 L1266.2,615.7 L1260.2,613.1 L1254.2,610.4 L1248.2,607.8 L1242.2,605.1 L1236.2,602.5 L1230.2,599.8 L1224.2,597.2 L1218.2,594.5 L1212.2,591.9 L1206.2,589.2 L1200.2,586.6 L1194.2,583.9 L1188.2,581.3 L1182.2,578.7 L1176.2,576.0 L1170.2,573.4 L1164.2,570.8 L1158.2,568.1 L1152.2,565.5 L1146.2,562.9 L1140.2,560.2 L1134.2,557.6 L1128.2,555.0 L1122.2,552.4 L1116.2,549.7 L1110.2,547.1 L1104.2,544.5 L1098.2,541.9 L1092.2,539.3 L1086.2,536.7 L1080.2,534.1 L1074.2,531.5 L1068.2,528.9 L1062.2,526.3 L1056.2,523.7 L1050.2,521.1 L1044.2,518.5 L1038.2,515.9 L1032.2,513.4 L1026.2,510.8 L1020.2,508.2 L1014.2,505.7 L1008.2,503.1 L1002.2,500.5 L996.2,498.0 L990.2,495.5 L984.2,492.9 L978.2,490.4 L972.2,487.9 L966.2,485.3 L960.2,482.8 L954.2,480.3 L948.2,477.8 L942.2,475.3 L936.2,472.8 L930.2,470.3 L924.2,467.8 L918.2,465.3 L912.2,462.9 L906.2,460.4 L900.2,458.0 L894.2,455.5 L888.2,453.1 L882.2,450.6 L876.2,448.2 L870.2,445.8 L864.2,443.4 L858.2,440.9 L852.2,438.6 L846.2,436.2 L840.2,433.8 L834.2,431.4 L828.2,429.0 L822.2,426.7 L816.2,424.3 L810.2,422.0 L804.2,419.7 L798.2,417.3 L792.2,415.0 L786.2,412.7 L780.2,410.4 L774.2,408.1 L768.2,405.9 L762.2,403.6 L756.2,401.4 L750.2,399.1 L744.2,396.9 L738.2,394.7 L732.2,392.5 L726.2,390.4 L720.2,388.2 L714.2,386.1 L708.2,384.0 L702.2,381.9 L696.2,379.8 L690.2,377.8 L684.2,375.7 L678.2,373.7 L672.2,371.7 L666.2,369.8 L660.2,367.8 L654.2,365.9 L648.2,363.9 L642.2,362.0 L636.2,360.1 L630.2,358.3 L624.2,356.4 L618.2,354.6 L612.2,352.7 L606.2,350.9 L600.2,349.2 L594.2,347.4 L588.2,345.6 L582.2,343.9 L576.2,342.2 L570.2,340.5 L564.2,338.8 L558.2,337.1 L552.2,335.4 L546.2,333.8 L540.2,332.2 L534.2,330.6 L528.2,329.0 L522.2,327.4 L516.2,325.8 L510.2,324.3 L504.2,322.7 L498.2,321.2 L492.2,319.7 L486.2,318.2 L480.2,316.7 L474.2,315.2 L468.2,313.8 L462.2,312.4 L456.2,310.9 L450.2,309.9 L444.2,309.1 L438.2,308.3 L432.2,307.5 L426.2,306.7 L420.2,305.9Z" fill="#c0c0c0"/>
<path d="M380.0,300.8 L386.0,301.6 L392.0,302.3 L398.0,303.0 L404.0,303.8 L410.0,304.6 L416.0,305.4 L422.0,306.2 L428.0,307.0 L434.0,306.9 L440.0,307.7 L446.0,308.5 L452.0,309.3 L458.0,310.5 L464.0,311.9 L470.0,313.3 L476.0,314.4 L482.0,315.5 L488.0,316.7 L494.0,317.9 L500.0,319.2 L506.0,320.4 L512.0,321.7 L518.0,323.0 L524.0,324.3 L530.0,325.6 L536.0,327.0 L542.0,328.3 L548.0,329.7 L554.0,331.1 L560.0,332.5 L566.0,334.0 L572.0,335.5 L578.0,336.9 L584.0,338.4 L590.0,339.9 L596.0,341.4 L602.0,343.0 L608.0,344.5 L614.0,346.1 L620.0,347.6 L626.0,349.2 L632.0,350.8 L638.0,352.4 L644.0,354.0 L650.0,355.7 L656.0,357.3 L662.0,358.9 L668.0,360.6 L674.0,362.2 L680.0,363.9 L686.0,365.6 L692.0,367.3 L698.0,369.0 L704.0,370.7 L710.0,372.4 L716.0,374.1 L722.0,375.8 L728.0,377.5 L734.0,379.3 L740.0,381.0 L746.0,382.7 L752.0,384.5 L758.0,386.2 L764.0,388.0 L770.0,389.8 L776.0,391.5 L782.0,393.3 L788.0,395.1 L794.0,396.9 L800.0,398.7 L806.0,400.5 L812.0,402.3 L818.0,404.1 L824.0,405.9 L830.0,407.7 L836.0,409.5 L842.0,411.3 L848.0,413.1 L854.0,415.0 L860.0,416.8 L866.0,418.6 L872.0,420.5 L878.0,422.3 L884.0,424.2 L890.0,426.0 L896.0,427.9 L902.0,429.7 L908.0,431.6 L914.0,433.4 L920.0,435.3 L926.0,437.2 L932.0,439.0 L938.0,440.9 L944.0,442.8 L950.0,444.7 L956.0,446.5 L962.0,448.4 L968.0,450.3 L974.0,452.2 L980.0,454.1 L986.0,456.0 L992.0,457.8 L998.0,459.7 L1004.0,461.6 L1010.0,463.5 L1016.0,465.4 L1022.0,467.3 L1028.0,469.2 L1034.0,471.1 L1040.0,473.0 L1046.0,474.9 L1052.0,476.8 L1058.0,478.7 L1064.0,480.6 L1070.0,482.5 L1076.0,484.4 L1082.0,486.3 L1088.0,488.2 L1094.0,490.1 L1100.0,492.0 L1106.0,493.9 L1112.0,495.7 L1118.0,497.6 L1124.0,499.5 L1130.0,501.4 L1136.0,503.3 L1142.0,505.2 L1148.0,507.1 L1154.0,509.0 L1160.0,510.9 L1166.0,512.7 L1172.0,514.6 L1178.0,516.5 L1184.0,518.4 L1190.0,520.3 L1196.0,522.1 L1202.0,524.0 L1208.0,525.9 L1214.0,527.7 L1220.0,529.6 L1226.0,531.5 L1232.0,533.3 L1238.0,535.2 L1244.0,537.0 L1250.0,538.9 L1256.0,540.7 L1262.0,542.6 L1268.0,544.4 L1274.0,546.3 L1280.0,548.1 L1286.0,550.0 L1292.0,551.8 L1298.0,553.6 L1304.0,555.5 L1310.0,557.3 L1316.0,559.1 L1322.0,561.0 L1328.0,562.8 L1334.0,564.6 L1340.0,566.4 L1346.0,568.2 L1352.0,570.0 L1358.0,571.8 L1364.0,573.6 L1370.0,575.5 L1376.0,577.3 L1382.0,579.0 L1388.0,580.8 L1394.0,582.6 L1400.0,584.4 L1406.0,586.2 L1412.0,588.0 L1418.0,589.8 L1424.0,591.5 L1430.0,593.3 L1436.0,595.1 L1442.0,596.9 L1448.0,598.6 L1454.0,600.4 L1460.0,602.1 L1466.0,603.9 L1472.0,605.6 L1478.0,607.4 L1484.0,609.1 L1490.0,610.9 L1496.0,612.6 L1502.0,614.3 L1508.0,616.1 L1514.0,617.8 L1520.0,619.5 L1526.0,621.3 L1532.0,623.0 L1538.0,624.7 L1544.0,626.4 L1550.0,628.1 L1556.0,629.8 L1562.0,631.5 L1568.0,633.2 L1574.0,634.9 L1580.0,636.6 L1586.0,638.3 L1592.0,639.9 L1598.0,641.6 L1604.0,643.3 L1610.0,645.0 L1616.0,646.6 L1622.0,648.3 L1628.0,650.0 L1634.0,651.6 L1640.0,653.3 L1646.0,654.9 L1652.0,656.5 L1658.0,658.2 L1664.0,659.8 L1670.0,661.4 L1676.0,663.1 L1682.0,664.7 L1688.0,666.3 L1694.0,667.9 L1700.0,669.5 L1706.0,671.1 L1712.0,672.7 L1718.0,674.3 L1724.0,675.9 L1730.0,677.5 L1736.0,679.1 L1742.0,680.7 L1748.0,682.3 L1754.0,683.8 L1760.0,685.4 L1766.0,686.9 L1772.0,688.5 L1778.0,690.1 L1784.0,691.6 L1790.0,693.1 L1796.0,694.7 L1802.0,696.2 L1808.0,697.7 L1814.0,699.3 L1820.0,700.8 L1826.0,702.3 L1832.0,703.8 L1838.0,705.3 L1844.0,706.8 L1850.0,708.3 L1856.0,709.8 L1862.0,711.3 L1868.0,712.8 L1874.0,714.3 L1880.0,715.7 L1886.0,717.2 L1892.0,718.7 L1898.0,720.1 L1904.0,721.6 L1910.0,723.0 L1916.0,724.5 L1922.0,725.9 L1928.0,727.3 L1934.0,728.7 L1940.0,730.2 L1946.0,731.6 L1952.0,733.0 L1958.0,734.4 L1964.0,735.8 L1970.0,737.2 L1976.0,738.6 L1982.0,740.0 L1988.0,741.4 L1994.0,742.7 L2000.0,744.1 L2006.0,745.5 L2012.0,746.8 L2018.0,748.2 L2024.0,749.5 L2030.0,750.9 L2036.0,752.2 L2042.0,753.5 L2048.0,754.9 L2054.0,756.2 L2060.0,757.5 L2066.0,758.8 L2072.0,760.1 L2078.0,761.4 L2084.0,762.7 L2090.0,764.0 L2096.0,765.3 L2102.0,766.5 L2108.0,767.8 L2114.0,769.1 L2120.0,770.3 L2126.0,771.6 L2132.0,772.8 L2138.0,774.1 L2144.0,775.3 L2150.0,776.5 L2156.0,777.8 L2162.0,779.0 L2168.0,780.2 L2174.0,781.4 L2180.0,782.6 L2186.0,783.8 L2192.0,785.0 L2198.0,786.2 L2204.0,787.4 L2210.0,788.5 L2216.0,789.7 L2222.0,790.9 L2228.0,792.1 L2234.0,793.2 L2240.0,794.4 L2246.0,795.6 L2252.0,796.7 L2258.0,797.9 L2264.0,799.0 L2270.0,800.2 L2276.0,801.4 L2282.0,802.5 L2288.0,803.7 L2294.0,804.9 L2300.0,806.0 L2306.0,807.2 L2312.0,808.3 L2318.0,809.5 L2324.0,810.7 L2330.0,811.9 L2336.0,813.0 L2342.0,814.2 L2348.0,815.4 L2354.0,816.6 L2360.0,817.8 L2366.0,819.0 L2372.0,820.2 L2378.0,821.4 L2384.0,822.6 L2390.0,823.8 L2396.0,825.0 L2402.0,826.2 L2408.0,827.5 L2414.0,828.7 L2417.5,829.4" fill="none" stroke="#808080" stroke-width="10.4" stroke-linejoin="round"/>
<path d="M426.0,305.2 L432.0,305.5 L438.0,305.7 L444.0,306.0 L450.0,306.2 L456.0,306.5 L462.0,306.8 L468.0,307.0 L474.0,307.3 L480.0,307.6 L486.0,307.9 L492.0,308.1 L498.0,308.4 L504.0,308.7 L510.0,308.9 L516.0,309.2 L522.0,309.5 L528.0,309.8 L534.0,310.0 L540.0,310.3 L546.0,310.6 L552.0,310.9 L558.0,311.1 L564.0,311.4 L570.0,311.7 L576.0,312.0 L582.0,312.3 L588.0,312.5 L594.0,312.8 L600.0,313.1 L606.0,313.4 L612.0,313.7 L618.0,313.9 L624.0,314.2 L630.0,314.5 L636.0,314.8 L642.0,315.1 L648.0,315.4 L654.0,315.7 L660.0,316.0 L666.0,316.2 L672.0,316.5 L678.0,316.8 L684.0,317.1 L690.0,317.4 L696.0,317.7 L702.0,318.0 L708.0,318.3 L714.0,318.6 L720.0,318.9 L726.0,319.2 L732.0,319.5 L738.0,319.8 L744.0,320.1 L750.0,320.3 L756.0,320.6 L762.0,320.9 L768.0,321.2 L774.0,321.5 L780.0,321.8 L786.0,322.1 L792.0,322.4 L798.0,322.7 L804.0,323.1 L810.0,323.4 L816.0,323.7 L822.0,324.0 L828.0,324.3 L834.0,324.6 L840.0,324.9 L846.0,325.2 L852.0,325.5 L858.0,325.8 L864.0,326.1 L870.0,326.4 L876.0,326.7 L882.0,327.0 L888.0,327.4 L894.0,327.7 L900.0,328.0 L906.0,328.3 L912.0,328.6 L918.0,328.9 L924.0,329.2 L930.0,329.6 L936.0,329.9 L942.0,330.2 L948.0,330.5 L954.0,330.8 L960.0,331.1 L966.0,331.5 L972.0,331.8 L978.0,332.1 L984.0,332.4 L990.0,332.7 L996.0,333.1 L1002.0,333.4 L1008.0,333.7 L1014.0,334.0 L1020.0,334.4 L1026.0,334.7 L1032.0,335.0 L1038.0,335.3 L1044.0,335.7 L1050.0,336.0 L1056.0,336.3 L1062.0,336.6 L1068.0,337.0 L1074.0,337.3 L1080.0,337.6 L1086.0,338.0 L1092.0,338.3 L1098.0,338.6 L1104.0,338.9 L1110.0,339.3 L1116.0,339.6 L1122.0,339.9 L1128.0,340.3 L1134.0,340.6 L1140.0,341.0 L1146.0,341.3 L1152.0,341.6 L1158.0,342.0 L1164.0,342.3 L1170.0,342.6 L1176.0,343.0 L1182.0,343.3 L1188.0,343.7 L1194.0,344.0 L1200.0,344.3 L1206.0,344.7 L1212.0,345.0 L1218.0,345.4 L1224.0,345.7 L1230.0,346.0 L1236.0,346.4 L1242.0,346.7 L1248.0,347.1 L1254.0,347.4 L1260.0,347.8 L1266.0,348.1 L1272.0,348.5 L1278.0,348.8 L1284.0,349.2 L1290.0,349.5 L1296.0,349.9 L1302.0,350.2 L1308.0,350.6 L1314.0,350.9 L1320.0,351.3 L1326.0,351.6 L1332.0,352.0 L1338.0,352.3 L1344.0,352.7 L1350.0,353.0 L1356.0,353.4 L1362.0,353.7 L1368.0,354.1 L1374.0,354.5 L1380.0,354.8 L1386.0,355.2 L1392.0,355.5 L1398.0,355.9 L1404.0,356.2 L1410.0,356.6 L1416.0,357.0 L1422.0,357.3 L1428.0,357.7 L1434.0,358.0 L1440.0,358.4 L1446.0,358.8 L1452.0,359.1 L1458.0,359.5 L1464.0,359.9 L1470.0,360.2 L1476.0,360.6 L1482.0,361.0 L1488.0,361.3 L1494.0,361.7 L1500.0,362.1 L1506.0,362.4 L1512.0,362.8 L1518.0,363.2 L1524.0,363.5 L1530.0,363.9 L1536.0,364.3 L1542.0,364.6 L1548.0,365.0 L1554.0,365.4 L1560.0,365.8 L1566.0,366.1 L1572.0,366.5 L1578.0,366.9 L1584.0,367.2 L1590.0,367.6 L1596.0,368.0 L1602.0,368.4 L1608.0,368.8 L1614.0,369.1 L1620.0,369.5 L1626.0,369.9 L1632.0,370.3 L1638.0,370.6 L1644.0,371.0 L1650.0,371.4 L1656.0,371.8 L1662.0,372.2 L1668.0,372.5 L1674.0,372.9 L1680.0,373.3 L1686.0,373.7 L1692.0,374.1 L1698.0,374.5 L1704.0,374.8 L1710.0,375.2 L1716.0,375.6 L1722.0,376.0 L1728.0,376.4 L1734.0,376.8 L1740.0,377.1 L1746.0,377.5 L1752.0,377.9 L1758.0,378.3 L1764.0,378.7 L1770.0,379.1 L1776.0,379.5 L1782.0,379.9 L1788.0,380.3 L1794.0,380.6 L1800.0,381.0 L1806.0,381.4 L1812.0,381.8 L1818.0,382.2 L1824.0,382.6 L1830.0,383.0 L1836.0,383.4 L1842.0,383.8 L1848.0,384.2 L1854.0,384.6 L1860.0,385.0 L1866.0,385.4 L1872.0,385.8 L1878.0,386.2 L1884.0,386.6 L1890.0,387.0 L1896.0,387.4 L1902.0,387.8 L1908.0,388.2 L1914.0,388.6 L1920.0,389.0 L1926.0,389.4 L1932.0,389.8 L1938.0,390.2 L1944.0,390.6 L1950.0,391.0 L1956.0,391.4 L1962.0,391.8 L1968.0,392.2 L1974.0,392.6 L1980.0,393.0 L1986.0,393.4 L1992.0,393.8 L1998.0,394.2 L2004.0,394.6 L2010.0,395.0 L2016.0,395.4 L2022.0,395.8 L2028.0,396.2 L2034.0,396.7 L2040.0,397.1 L2046.0,397.5 L2052.0,397.9 L2058.0,398.3 L2064.0,398.7 L2070.0,399.1 L2076.0,399.5 L2082.0,399.9 L2088.0,400.3 L2094.0,400.8 L2100.0,401.2 L2106.0,401.6 L2112.0,402.0 L2118.0,402.4 L2124.0,402.8 L2130.0,403.2 L2136.0,403.7 L2142.0,404.1 L2148.0,404.5 L2154.0,404.9 L2160.0,405.3 L2166.0,405.7 L2172.0,406.2 L2178.0,406.6 L2184.0,407.0 L2190.0,407.4 L2196.0,407.8 L2202.0,408.3 L2208.0,408.7 L2214.0,409.1 L2220.0,409.5 L2226.0,409.9 L2232.0,410.4 L2238.0,410.8 L2244.0,411.2 L2250.0,411.6 L2256.0,412.1 L2262.0,412.5 L2268.0,412.9 L2274.0,413.3 L2280.0,413.8 L2286.0,414.2 L2292.0,414.6 L2298.0,415.0 L2304.0,415.5 L2310.0,415.9 L2316.0,416.3 L2322.0,416.8 L2328.0,417.2 L2334.0,417.6 L2340.0,418.0 L2346.0,418.5 L2352.0,418.9 L2358.0,419.3 L2364.0,419.8 L2370.0,420.2 L2376.0,420.6 L2382.0,421.1 L2388.0,421.5 L2394.0,421.9 L2400.0,422.4 L2406.0,422.8 L2412.0,423.2 L2417.5,423.6" fill="none" stroke="#0000ff" stroke-width="10.6" stroke-linecap="round" stroke-linejoin="round" stroke-dasharray="41.90 26.30 6.00 26.30" stroke-dashoffset="-44.34"/>
<path d="M312.2,295.2 L318.2,294.9 L324.2,294.6 L330.2,294.6 L336.2,295.1 L342.2,295.7 L348.2,296.5 L354.2,297.4 L360.2,298.2 L366.2,299.0 L372.2,299.8 L378.2,300.6 L384.2,301.3 L390.2,302.1 L396.2,302.8 L402.2,303.6 L408.2,304.4 L414.2,305.1 L420.2,305.9 L426.2,306.7 L432.2,307.5 L438.2,308.3 L444.2,309.1 L450.2,309.9 L456.2,310.9 L462.2,312.4 L468.2,313.8 L474.2,315.2 L480.2,316.7 L486.2,318.2 L492.2,319.7 L498.2,321.2 L504.2,322.7 L510.2,324.3 L516.2,325.8 L522.2,327.4 L528.2,329.0 L534.2,330.6 L540.2,332.2 L546.2,333.8 L552.2,335.4 L558.2,337.1 L564.2,338.8 L570.2,340.5 L576.2,342.2 L582.2,343.9 L588.2,345.6 L594.2,347.4 L600.2,349.2 L606.2,350.9 L612.2,352.7 L618.2,354.6 L624.2,356.4 L630.2,358.3 L636.2,360.1 L642.2,362.0 L648.2,363.9 L654.2,365.9 L660.2,367.8 L666.2,369.8 L672.2,371.7 L678.2,373.7 L684.2,375.7 L690.2,377.8 L696.2,379.8 L702.2,381.9 L708.2,384.0 L714.2,386.1 L720.2,388.2 L726.2,390.4 L732.2,392.5 L738.2,394.7 L744.2,396.9 L750.2,399.1 L756.2,401.4 L762.2,403.6 L768.2,405.9 L774.2,408.1 L780.2,410.4 L786.2,412.7 L792.2,415.0 L798.2,417.3 L804.2,419.7 L810.2,422.0 L816.2,424.3 L822.2,426.7 L828.2,429.0 L834.2,431.4 L840.2,433.8 L846.2,436.2 L852.2,438.6 L858.2,440.9 L864.2,443.4 L870.2,445.8 L876.2,448.2 L882.2,450.6 L888.2,453.1 L894.2,455.5 L900.2,458.0 L906.2,460.4 L912.2,462.9 L918.2,465.3 L924.2,467.8 L930.2,470.3 L936.2,472.8 L942.2,475.3 L948.2,477.8 L954.2,480.3 L960.2,482.8 L966.2,485.3 L972.2,487.9 L978.2,490.4 L984.2,492.9 L990.2,495.5 L996.2,498.0 L1002.2,500.5 L1008.2,503.1 L1014.2,505.7 L1020.2,508.2 L1026.2,510.8 L1032.2,513.4 L1038.2,515.9 L1044.2,518.5 L1050.2,521.1 L1056.2,523.7 L1062.2,526.3 L1068.2,528.9 L1074.2,531.5 L1080.2,534.1 L1086.2,536.7 L1092.2,539.3 L1098.2,541.9 L1104.2,544.5 L1110.2,547.1 L1116.2,549.7 L1122.2,552.4 L1128.2,555.0 L1134.2,557.6 L1140.2,560.2 L1146.2,562.9 L1152.2,565.5 L1158.2,568.1 L1164.2,570.8 L1170.2,573.4 L1176.2,576.0 L1182.2,578.7 L1188.2,581.3 L1194.2,583.9 L1200.2,586.6 L1206.2,589.2 L1212.2,591.9 L1218.2,594.5 L1224.2,597.2 L1230.2,599.8 L1236.2,602.5 L1242.2,605.1 L1248.2,607.8 L1254.2,610.4 L1260.2,613.1 L1266.2,615.7 L1272.2,618.4 L1278.2,621.0 L1284.2,623.6 L1290.2,626.3 L1296.2,628.9 L1302.2,631.6 L1308.2,634.2 L1314.2,636.9 L1320.2,639.5 L1326.2,642.1 L1332.2,644.8 L1338.2,647.4 L1344.2,650.1 L1350.2,652.7 L1356.2,655.3 L1362.2,658.0 L1368.2,660.6 L1374.2,663.2 L1380.2,665.8 L1386.2,668.5 L1392.2,671.1 L1398.2,673.7 L1404.2,676.3 L1410.2,678.9 L1416.2,681.5 L1422.2,684.1 L1428.2,686.7 L1434.2,689.3 L1440.2,691.9 L1446.2,694.5 L1452.2,697.1 L1458.2,699.7 L1464.2,702.3 L1470.2,704.8 L1476.2,707.4 L1482.2,710.0 L1488.2,712.6 L1494.2,715.1 L1500.2,717.7 L1506.2,720.2 L1512.2,722.8 L1518.2,725.3 L1524.2,727.8 L1530.2,730.4 L1536.2,732.9 L1542.2,735.4 L1548.2,737.9 L1554.2,740.5 L1560.2,743.0 L1566.2,745.5 L1572.2,747.9 L1578.2,750.4 L1584.2,752.9 L1590.2,755.4 L1596.2,757.9 L1602.2,760.3 L1608.2,762.8 L1614.2,765.2 L1620.2,767.7 L1626.2,770.1 L1632.2,772.5 L1638.2,775.0 L1644.2,777.4 L1650.2,779.8 L1656.2,782.2 L1662.2,784.6 L1668.2,787.0 L1674.2,789.4 L1680.2,791.7 L1686.2,794.1 L1692.2,796.4 L1698.2,798.8 L1704.2,801.1 L1710.2,803.5 L1716.2,805.8 L1722.2,808.1 L1728.2,810.4 L1734.2,812.7 L1740.2,815.0 L1746.2,817.3 L1752.2,819.5 L1758.2,821.8 L1764.2,824.0 L1770.2,826.3 L1776.2,828.5 L1782.2,830.7 L1788.2,832.9 L1794.2,835.1 L1800.2,837.3 L1806.2,839.5 L1812.2,841.7 L1818.2,843.9 L1824.2,846.0 L1830.2,848.2 L1836.2,850.3 L1842.2,852.5 L1848.2,854.6 L1854.2,856.7 L1860.2,858.8 L1866.2,860.9 L1872.2,863.0 L1878.2,865.1 L1884.2,867.1 L1890.2,869.2 L1896.2,871.3 L1902.2,873.3 L1908.2,875.3 L1914.2,877.4 L1920.2,879.4 L1926.2,881.4 L1932.2,883.4 L1938.2,885.4 L1944.2,887.4 L1950.2,889.4 L1956.2,891.3 L1962.2,893.3 L1968.2,895.3 L1974.2,897.2 L1980.2,899.1 L1986.2,901.1 L1992.2,903.0 L1998.2,904.9 L2004.2,906.8 L2010.2,908.7 L2016.2,910.6 L2022.2,912.5 L2028.2,914.4 L2034.2,916.2 L2040.2,918.1 L2046.2,919.9 L2052.2,921.8 L2058.2,923.6 L2064.2,925.5 L2070.2,927.3 L2076.2,929.1 L2082.2,930.9 L2088.2,932.7 L2094.2,934.5 L2100.2,936.3 L2106.2,938.1 L2112.2,939.8 L2118.2,941.6 L2124.2,943.4 L2130.2,945.1 L2136.2,946.9 L2142.2,948.6 L2148.2,950.3 L2154.2,952.1 L2160.2,953.8 L2166.2,955.5 L2172.2,957.2 L2178.2,958.9 L2184.2,960.6 L2190.2,962.3 L2196.2,963.9 L2202.2,965.6 L2208.2,967.3 L2214.2,968.9 L2220.2,970.6 L2226.2,972.2 L2232.2,973.9 L2238.2,975.5 L2244.2,977.1 L2250.2,978.7 L2256.2,980.3 L2262.2,982.0 L2268.2,983.6 L2274.2,985.1 L2280.2,986.7 L2286.2,988.3 L2292.2,989.9 L2298.2,991.5 L2304.2,993.1 L2310.2,994.6 L2316.2,996.2 L2322.2,997.8 L2328.2,999.3 L2334.2,1000.9 L2340.2,1002.5 L2346.2,1004.0 L2352.2,1005.6 L2358.2,1007.2 L2364.2,1008.7 L2370.2,1010.3 L2376.2,1011.9 L2382.2,1013.5 L2388.2,1015.0 L2394.2,1016.6 L2400.2,1018.2 L2406.2,1019.8 L2412.2,1021.4 L2417.5,1022.8" fill="none" stroke="#800000" stroke-width="10.8" stroke-linejoin="round"/>
</g>
<g fill="#ff00ff" shape-rendering="crispEdges">
<circle cx="1777.1" cy="841.7" r="8.5"/>
<circle cx="1791.5" cy="868.4" r="8.5"/>
<circle cx="1807.4" cy="895.3" r="8.5"/>
<circle cx="1823.0" cy="921.5" r="8.5"/>
<circle cx="1838.5" cy="948.4" r="8.5"/>
<circle cx="1854.6" cy="975.0" r="8.5"/>
<circle cx="1870.8" cy="1001.5" r="8.5"/>
<circle cx="1886.9" cy="1028.1" r="8.5"/>
<circle cx="1903.4" cy="1054.5" r="8.5"/>
<circle cx="1920.5" cy="1081.4" r="8.5"/>
<circle cx="1937.7" cy="1108.0" r="8.5"/>
<circle cx="1955.1" cy="1134.6" r="8.5"/>
<circle cx="1972.6" cy="1161.1" r="8.5"/>
<circle cx="1990.4" cy="1187.4" r="8.5"/>
<circle cx="2008.5" cy="1214.1" r="8.5"/>
<circle cx="2026.6" cy="1239.4" r="8.5"/>
<circle cx="2045.5" cy="1268.0" r="8.5"/>
<circle cx="2063.6" cy="1295.6" r="8.5"/>
<circle cx="2084.1" cy="1319.6" r="8.5"/>
<circle cx="2105.5" cy="1349.0" r="8.5"/>
<circle cx="2126.3" cy="1376.4" r="8.5"/>
<circle cx="2144.1" cy="1400.2" r="8.5"/>
<circle cx="2164.0" cy="1426.7" r="8.5"/>
</g>
<g transform="translate(586.1,333.4)" shape-rendering="crispEdges"><circle r="34.1" fill="#ff00ff"/><circle cx="-10.3" cy="-9.9" r="17" fill="#ff66ff"/><circle cx="-10.5" cy="-10.3" r="11.8" fill="#ffb4ff"/><circle cx="-10.5" cy="-10.3" r="5.8" fill="#fff8ff"/></g>
<g transform="translate(879.6,369.0)" shape-rendering="crispEdges"><circle r="34.1" fill="#ff00ff"/><circle cx="-10.3" cy="-9.9" r="17" fill="#ff66ff"/><circle cx="-10.5" cy="-10.3" r="11.8" fill="#ffb4ff"/><circle cx="-10.5" cy="-10.3" r="5.8" fill="#fff8ff"/></g>
<g transform="translate(952.1,459.9)" shape-rendering="crispEdges"><circle r="34.1" fill="#ff00ff"/><circle cx="-10.3" cy="-9.9" r="17" fill="#ff66ff"/><circle cx="-10.5" cy="-10.3" r="11.8" fill="#ffb4ff"/><circle cx="-10.5" cy="-10.3" r="5.8" fill="#fff8ff"/></g>
<g transform="translate(1492.0,766.6)" shape-rendering="crispEdges"><circle r="34.1" fill="#ff00ff"/><circle cx="-10.3" cy="-9.9" r="17" fill="#ff66ff"/><circle cx="-10.5" cy="-10.3" r="11.8" fill="#ffb4ff"/><circle cx="-10.5" cy="-10.3" r="5.8" fill="#fff8ff"/></g>
<g transform="translate(1703.1,1006.0)" shape-rendering="crispEdges"><circle r="34.1" fill="#ff00ff"/><circle cx="-10.3" cy="-9.9" r="17" fill="#ff66ff"/><circle cx="-10.5" cy="-10.3" r="11.8" fill="#ffb4ff"/><circle cx="-10.5" cy="-10.3" r="5.8" fill="#fff8ff"/></g>
<g transform="translate(1822.4,846.5)" shape-rendering="crispEdges"><circle r="34.1" fill="#ff00ff"/><circle cx="-10.3" cy="-9.9" r="17" fill="#ff66ff"/><circle cx="-10.5" cy="-10.3" r="11.8" fill="#ffb4ff"/><circle cx="-10.5" cy="-10.3" r="5.8" fill="#fff8ff"/></g>
<g transform="translate(1950.1,1125.9)" shape-rendering="crispEdges"><circle r="34.1" fill="#ff00ff"/><circle cx="-10.3" cy="-9.9" r="17" fill="#ff66ff"/><circle cx="-10.5" cy="-10.3" r="11.8" fill="#ffb4ff"/><circle cx="-10.5" cy="-10.3" r="5.8" fill="#fff8ff"/></g>
<g transform="translate(2042.0,1273.1)" shape-rendering="crispEdges"><circle r="34.1" fill="#ff00ff"/><circle cx="-10.3" cy="-9.9" r="17" fill="#ff66ff"/><circle cx="-10.5" cy="-10.3" r="11.8" fill="#ffb4ff"/><circle cx="-10.5" cy="-10.3" r="5.8" fill="#fff8ff"/></g>
<g transform="translate(2106.0,1352.8)" shape-rendering="crispEdges"><circle r="34.1" fill="#ff00ff"/><circle cx="-10.3" cy="-9.9" r="17" fill="#ff66ff"/><circle cx="-10.5" cy="-10.3" r="11.8" fill="#ffb4ff"/><circle cx="-10.5" cy="-10.3" r="5.8" fill="#fff8ff"/></g>
<g stroke="#000" stroke-width="10.6" fill="none" stroke-linecap="round" stroke-linejoin="round" shape-rendering="crispEdges">
<path d="M312,34.5V1565.5" stroke-width="10"/>
<path d="M312.5,34.5H2417.5V1565.5H312.5" stroke-width="11"/>
<path d="M404.0,1564.5V1536.0M404.0,35.5V64.0M541.2,1564.5V1550.5M541.2,35.5V49.5M678.5,1564.5V1536.0M678.5,35.5V64.0M815.8,1564.5V1550.5M815.8,35.5V49.5M953.0,1564.5V1536.0M953.0,35.5V64.0M1090.2,1564.5V1550.5M1090.2,35.5V49.5M1227.5,1564.5V1536.0M1227.5,35.5V64.0M1364.8,1564.5V1550.5M1364.8,35.5V49.5M1502.0,1564.5V1536.0M1502.0,35.5V64.0M1639.2,1564.5V1550.5M1639.2,35.5V49.5M1776.5,1564.5V1536.0M1776.5,35.5V64.0M1913.8,1564.5V1550.5M1913.8,35.5V49.5M2051.0,1564.5V1536.0M2051.0,35.5V64.0M2188.2,1564.5V1550.5M2188.2,35.5V49.5M2325.5,1564.5V1536.0M2325.5,35.5V64.0M313.2,1565.5H341.7M2416.5,1565.5H2388.0M313.2,1432.4H327.2M2416.5,1432.4H2402.5M313.2,1299.2H341.7M2416.5,1299.2H2388.0M313.2,1166.1H327.2M2416.5,1166.1H2402.5M313.2,1033.0H341.7M2416.5,1033.0H2388.0M313.2,899.8H327.2M2416.5,899.8H2402.5M313.2,766.7H341.7M2416.5,766.7H2388.0M313.2,633.6H327.2M2416.5,633.6H2402.5M313.2,500.5H341.7M2416.5,500.5H2388.0M313.2,367.3H327.2M2416.5,367.3H2402.5M313.2,234.2H341.7M2416.5,234.2H2388.0M313.2,101.1H327.2M2416.5,101.1H2402.5" stroke-width="10.5"/>
</g>
<g font-family="'Liberation Sans',Arial,Helvetica,sans-serif" font-weight="bold" style="font-kerning:none" filter="url(#hard)">
<text transform="translate(281.10,1589.50) scale(1.0,1.03)" font-size="89" letter-spacing="-1.5" text-anchor="end">0</text>
<text transform="translate(281.10,1323.24) scale(1.0,1.03)" font-size="89" letter-spacing="-1.5" text-anchor="end">20</text>
<text transform="translate(281.10,1056.98) scale(1.0,1.03)" font-size="89" letter-spacing="-1.5" text-anchor="end">40</text>
<text transform="translate(281.10,790.72) scale(1.0,1.03)" font-size="89" letter-spacing="-1.5" text-anchor="end">60</text>
<text transform="translate(281.10,524.46) scale(1.0,1.03)" font-size="89" letter-spacing="-1.5" text-anchor="end">80</text>
<text transform="translate(281.10,258.20) scale(1.0,1.03)" font-size="89" letter-spacing="-1.5" text-anchor="end">100</text>
<text transform="translate(404.60,1665.30) scale(1.0,1.03)" font-size="89" letter-spacing="-1.0" text-anchor="middle">390</text>
<text transform="translate(679.10,1665.30) scale(1.0,1.03)" font-size="89" letter-spacing="-1.0" text-anchor="middle">420</text>
<text transform="translate(953.60,1665.30) scale(1.0,1.03)" font-size="89" letter-spacing="-1.0" text-anchor="middle">450</text>
<text transform="translate(1228.10,1665.30) scale(1.0,1.03)" font-size="89" letter-spacing="-1.0" text-anchor="middle">480</text>
<text transform="translate(1502.60,1665.30) scale(1.0,1.03)" font-size="89" letter-spacing="-1.0" text-anchor="middle">510</text>
<text transform="translate(1777.10,1665.30) scale(1.0,1.03)" font-size="89" letter-spacing="-1.0" text-anchor="middle">540</text>
<text transform="translate(2051.60,1665.30) scale(1.0,1.03)" font-size="89" letter-spacing="-1.0" text-anchor="middle">570</text>
<text transform="translate(2326.10,1665.30) scale(1.0,1.03)" font-size="89" letter-spacing="-1.0" text-anchor="middle">600</text>
<text transform="translate(1366.50,1783.80)" font-size="99" letter-spacing="-1.95" text-anchor="middle">Wavelength (nm)</text>
<text transform="translate(103.00,823.40) rotate(-90) scale(1.0,1.02)" font-size="99" letter-spacing="0.0" text-anchor="middle">Maximum IQE (%)</text>
<text transform="translate(1281.00,220.00) scale(1.0,0.98)" font-size="85" letter-spacing="-1.39" fill="#008000">materials properties</text>
<text transform="translate(675.00,753.20) scale(1.0,0.98)" font-size="85" letter-spacing="-0.53" fill="#800000">polar</text>
<text transform="translate(484.00,942.00) scale(1.0,0.98)" font-size="85" letter-spacing="-0.875" fill="#404040">non-polar</text>
<text transform="translate(1174.60,912.20) scale(1.0,0.98)" font-size="85" letter-spacing="-1.32" fill="#ff00ff">experiment</text>
<text transform="translate(1247.00,1017.30) scale(1.0,0.98)" font-size="85" letter-spacing="-1.1" fill="#ff00ff">(polar)</text>
<text transform="translate(1581.00,536.50) rotate(7.9)" font-size="85" letter-spacing="0.2" fill="#0000ff">hole localization</text>
<text transform="translate(1988.40,844.00) rotate(17) scale(1.0,1.04)" font-size="85.5" letter-spacing="0" fill="#404040">QCSE</text>
<text transform="translate(437,1438.7) scale(1,1.03)" font-size="99" letter-spacing="-1.5">E<tspan font-size="59" dx="-1" dy="38">e</tspan><tspan dx="-0.3" dy="-38">= 40 meV</tspan></text>
</g>
<g stroke="#800000" fill="#800000" stroke-linecap="round" stroke-linejoin="round"><line x1="894.8" y1="687.6" x2="1029.5" y2="561.6" stroke-width="7.3"/><polygon points="1056.7,536.2 1035.2,567.6 1023.9,555.6" stroke-width="6.8"/></g>
<g stroke="#404040" fill="#404040" stroke-linecap="round" stroke-linejoin="round"><line x1="887.0" y1="869.6" x2="1196.2" y2="569.0" stroke-width="7.3"/><polygon points="1222.9,543.1 1201.9,574.9 1190.4,563.1" stroke-width="6.8"/></g>
<g stroke="#008000" fill="#008000" stroke-linecap="round" stroke-linejoin="round"><line x1="2086.6" y1="251.4" x2="2146.2" y2="329.9" stroke-width="7.3"/><polygon points="2168.6,359.6 2139.6,334.9 2152.7,325.0" stroke-width="6.8"/></g>
</svg>
</body></html>
